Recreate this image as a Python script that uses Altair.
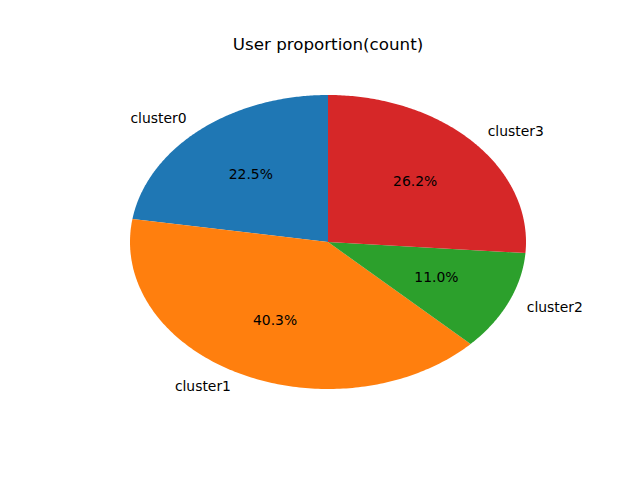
import altair as alt
import pandas as pd

clusters = ["cluster0", "cluster1", "cluster2", "cluster3"]
shares = [22.5, 40.3, 11.0, 26.2]
colors = ["#1f77b4", "#ff7f0e", "#2ca02c", "#d62728"]
title_text = "User proportion(count)"

df = pd.DataFrame({"cluster": clusters, "share": shares, "k": list(range(len(clusters)))})

FONT = "DejaVu Sans"

base = (
    alt.Chart(df)
    .transform_joinaggregate(total="sum(share)")
    .transform_window(
        cum="sum(share)",
        sort=[alt.SortField("k", order="descending")],
        frame=[None, 0],
    )
    .transform_calculate(
        a0="2*PI*(datum.cum - datum.share)/datum.total",
        a1="2*PI*datum.cum/datum.total",
    )
    .transform_calculate(mid="(datum.a0 + datum.a1)/2")
)

xs = alt.Scale(domain=[-1, 1], nice=False, zero=False)
ys = alt.Scale(domain=[-1, 1], nice=False, zero=False)
color = alt.Color("cluster:N", scale=alt.Scale(domain=clusters, range=colors), legend=None)

N = 160
wedges = (
    base.transform_calculate(i=f"sequence(-1, {N + 1})")
    .transform_flatten(["i"])
    .transform_calculate(
        t=f"datum.a0 + (datum.a1 - datum.a0) * max(datum.i, 0) / {N}",
    )
    .transform_calculate(
        px="datum.i < 0 ? 0 : sin(datum.t)",
        py="datum.i < 0 ? 0 : cos(datum.t)",
    )
    .mark_line(filled=True, strokeWidth=0)
    .encode(
        x=alt.X("px:Q", scale=xs, axis=None),
        y=alt.Y("py:Q", scale=ys, axis=None),
        color=color,
        detail="cluster:N",
        order="i:Q",
    )
)

pct = (
    base.transform_calculate(
        tx="0.6*sin(datum.mid)",
        ty="0.6*cos(datum.mid)",
        lab="format(datum.share/datum.total*100, '.1f') + '%'",
    )
    .mark_text(font=FONT, fontSize=13.9, color="black", align="center", baseline="middle")
    .encode(x=alt.X("tx:Q", scale=xs, axis=None), y=alt.Y("ty:Q", scale=ys, axis=None), text="lab:N")
)

lab_base = base.transform_calculate(
    tx="1.1*sin(datum.mid)",
    ty="1.1*cos(datum.mid)",
)
lab_right = (
    lab_base.transform_filter("datum.tx >= 0")
    .mark_text(font=FONT, fontSize=13.9, color="black", align="left", baseline="middle")
    .encode(x=alt.X("tx:Q", scale=xs, axis=None), y=alt.Y("ty:Q", scale=ys, axis=None), text="cluster:N")
)
lab_left = (
    lab_base.transform_filter("datum.tx < 0")
    .mark_text(font=FONT, fontSize=13.9, color="black", align="right", baseline="middle")
    .encode(x=alt.X("tx:Q", scale=xs, axis=None), y=alt.Y("ty:Q", scale=ys, axis=None), text="cluster:N")
)

chart = (
    alt.layer(wedges, pct, lab_right, lab_left)
    .properties(
        width=396,
        height=294,
        background="white",
        autosize=alt.AutoSizeParams(type="none"),
        padding={"left": 122, "top": 87, "right": 100, "bottom": 80},
        title=alt.TitleParams(
            title_text, font=FONT, fontSize=16.7, fontWeight="normal",
            anchor="middle", baseline="bottom", offset=24, color="black",
        ),
    )
    .configure_view(strokeWidth=0, stroke="transparent")
)

chart.save("out.html", embed_options={"renderer": "svg", "actions": False})
